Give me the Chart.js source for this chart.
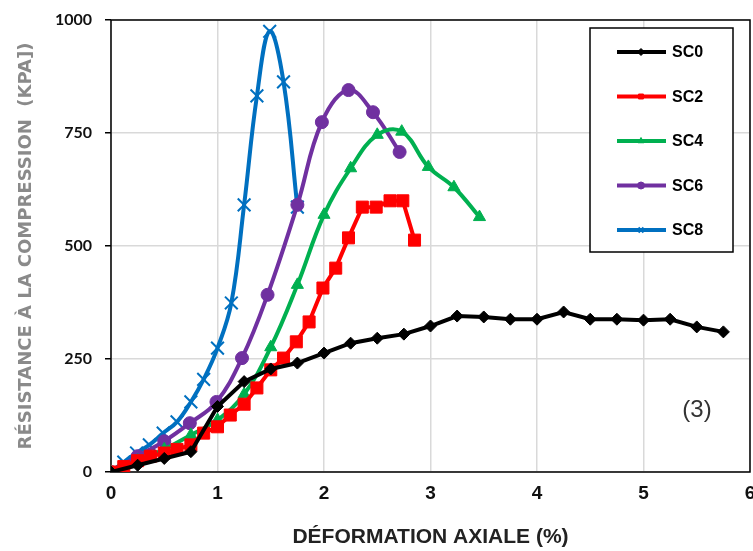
<!DOCTYPE html>
<html>
<head>
<meta charset="utf-8">
<script src="https://cdn.jsdelivr.net/npm/chart.js@4/dist/chart.umd.min.js"></script>
<style>
  html, body { margin: 0; padding: 0; background: #fff; }
  #wrap { width: 753px; height: 551px; }
</style>
</head>
<body>
<div id="wrap"><canvas id="chart_1"></canvas></div>
<script>
// data: axial strain (%) vs compressive strength (kPa)
const sc0X = [0, 0.25, 0.5, 0.75, 1.0, 1.25, 1.5, 1.75, 2.0, 2.25, 2.5, 2.75, 3.0, 3.25, 3.5, 3.75, 4.0, 4.25, 4.5, 4.75, 5.0, 5.25, 5.5, 5.75];
const sc0Y = [0, 15, 30, 45, 145, 200, 228, 241, 263, 285, 296, 305, 323, 345, 343, 338, 338, 354, 338, 338, 336, 338, 321, 310];

const sc2X = [0, 0.12, 0.25, 0.37, 0.5, 0.62, 0.75, 0.87, 1.0, 1.12, 1.25, 1.37, 1.5, 1.62, 1.74, 1.86, 1.99, 2.11, 2.23, 2.36, 2.49, 2.62, 2.74, 2.85];
const sc2Y = [0, 12, 25, 35, 42, 50, 60, 86, 100, 126, 150, 186, 226, 252, 288, 332, 407, 451, 518, 586, 586, 600, 600, 513];

const sc4X = [0, 0.25, 0.5, 0.75, 1.0, 1.25, 1.5, 1.75, 2.0, 2.25, 2.5, 2.73, 2.98, 3.22, 3.46];
const sc4Y = [0, 25, 50, 82, 115, 172, 276, 414, 569, 672, 746, 753, 675, 630, 564];

const sc6X = [0, 0.25, 0.5, 0.74, 0.99, 1.23, 1.47, 1.75, 1.98, 2.23, 2.46, 2.71];
const sc6Y = [0, 35, 68, 108, 155, 252, 392, 591, 774, 845, 796, 708];

const sc8X = [0, 0.12, 0.24, 0.36, 0.49, 0.62, 0.75, 0.87, 1.0, 1.13, 1.25, 1.37, 1.49, 1.62, 1.75];
const sc8Y = [0, 22, 42, 60, 86, 111, 155, 205, 274, 374, 591, 832, 975, 863, 586];

const xTicks = [0, 1, 2, 3, 4, 5, 6];
const yTicks = [0, 250, 500, 750, 1000];

function pts(xs, ys) {
  return xs.map(function (x, i) { return { x: x, y: ys[i] }; });
}

function series(label, xs, ys, color, style, radius, tension) {
  return {
    label: label,
    data: pts(xs, ys),
    borderColor: color,
    backgroundColor: color,
    borderWidth: 4,
    pointStyle: style,
    pointRadius: radius,
    pointBorderWidth: style === "crossRot" ? 2 : 1,
    pointBorderColor: color,
    pointBackgroundColor: color,
    tension: tension,
  };
}

// plot box + legend box + panel label
const extras = {
  id: "extras",
  beforeDatasetsDraw: function (chart) {
    const a = chart.chartArea;
    const c = chart.ctx;
    c.save();
    c.strokeStyle = "#000";
    c.lineWidth = 1.5;
    c.strokeRect(a.left, a.top, a.right - a.left, a.bottom - a.top);
    c.restore();
  },
  afterDraw: function (chart) {
    const a = chart.chartArea;
    const c = chart.ctx;
    c.save();
    const bx = a.right - 160, by = a.top + 8, bw = 143, bh = 224;
    c.fillStyle = "#fff";
    c.fillRect(bx, by, bw, bh);
    c.strokeStyle = "#000";
    c.lineWidth = 1.5;
    c.strokeRect(bx, by, bw, bh);
    chart.data.datasets.forEach(function (ds, i) {
      const y = by + 24 + i * 44.5;
      c.strokeStyle = ds.borderColor;
      c.lineWidth = 4;
      c.beginPath();
      c.moveTo(bx + 27, y);
      c.lineTo(bx + 76, y);
      c.stroke();
      c.fillStyle = ds.borderColor;
      c.lineWidth = ds.pointBorderWidth;
      Chart.helpers.drawPoint(c, { pointStyle: ds.pointStyle, radius: 3.5, rotation: 0, borderWidth: ds.pointBorderWidth }, bx + 51, y);
      c.fillStyle = "#000";
      c.font = "bold 16px 'Liberation Sans', Arial, sans-serif";
      c.textAlign = "left";
      c.textBaseline = "middle";
      c.fillText(ds.label, bx + 82, y + 1);
    });
    c.fillStyle = "#333";
    c.font = "24px 'Liberation Sans', Arial, sans-serif";
    c.textAlign = "center";
    c.textBaseline = "middle";
    c.fillText("(3)", a.right - 53, a.bottom - 62);
    c.restore();
  },
};

const ctx1 = document.getElementById("chart_1").getContext("2d");
var myChart1 = new Chart(ctx1, {
  type: "line",
  data: {
    datasets: [
      series("SC0", sc0X, sc0Y, "#000000", "rectRot", 6, 0),
      series("SC2", sc2X, sc2Y, "#FF0000", "rect", 8.5, 0),
      series("SC4", sc4X, sc4Y, "#00B050", "triangle", 7, 0.4),
      series("SC6", sc6X, sc6Y, "#7030A0", "circle", 6.5, 0.4),
      series("SC8", sc8X, sc8Y, "#0070C0", "crossRot", 9, 0.4),
    ],
  },
  options: {
    responsive: true,
    maintainAspectRatio: false,
    animation: false,
    layout: {
      autoPadding: false,
      padding: { left: 0, top: 20, right: 3, bottom: 0 },
    },
    plugins: {
      legend: { display: false },
      tooltip: { enabled: false },
    },
    scales: {
      x: {
        type: "linear",
        min: 0,
        max: 6,
        afterBuildTicks: function (scale) {
          scale.ticks = xTicks.map(function (v) { return { value: v }; });
        },
        afterFit: function (scale) {
          scale.height = 79;
          scale.paddingLeft = 0;
          scale.paddingRight = 0;
        },
        grid: { color: "#d9d9d9", lineWidth: 1.5, drawTicks: false },
        border: { display: false },
        ticks: {
          color: "#111",
          padding: 10,
          callback: function (v) { return String(v); },
          font: { family: "'Liberation Sans Narrow', 'Liberation Sans', Arial", size: 19, weight: "bold" },
        },
        title: {
          display: true,
          text: "DÉFORMATION AXIALE (%)",
          color: "#222",
          padding: { top: 22, bottom: 1 },
          font: { family: "'Liberation Sans Narrow', 'Liberation Sans', Arial", size: 21, weight: "bold" },
        },
      },
      y: {
        min: 0,
        max: 1000,
        afterBuildTicks: function (scale) {
          scale.ticks = yTicks.map(function (v) { return { value: v }; });
        },
        afterFit: function (scale) {
          scale.width = 111;
          scale.paddingTop = 0;
          scale.paddingBottom = 0;
        },
        grid: { color: "#d9d9d9", lineWidth: 1.5, tickColor: "#000", tickLength: 6 },
        border: { display: false },
        ticks: {
          color: "#111",
          padding: 13,
          callback: function (v) { return String(v); },
          font: { family: "Lato, 'Open Sans', sans-serif", size: 16, weight: "bold" },
        },
        title: {
          display: true,
          text: "RÉSISTANCE À LA COMPRESSION  (KPA])",
          color: "#8a8a8a",
          padding: { top: 16, bottom: 0 },
          font: { family: "'DejaVu Sans', 'Open Sans', sans-serif", size: 18, weight: "bold" },
        },
      },
    },
  },
  plugins: [extras],
});
</script>
</body>
</html>
